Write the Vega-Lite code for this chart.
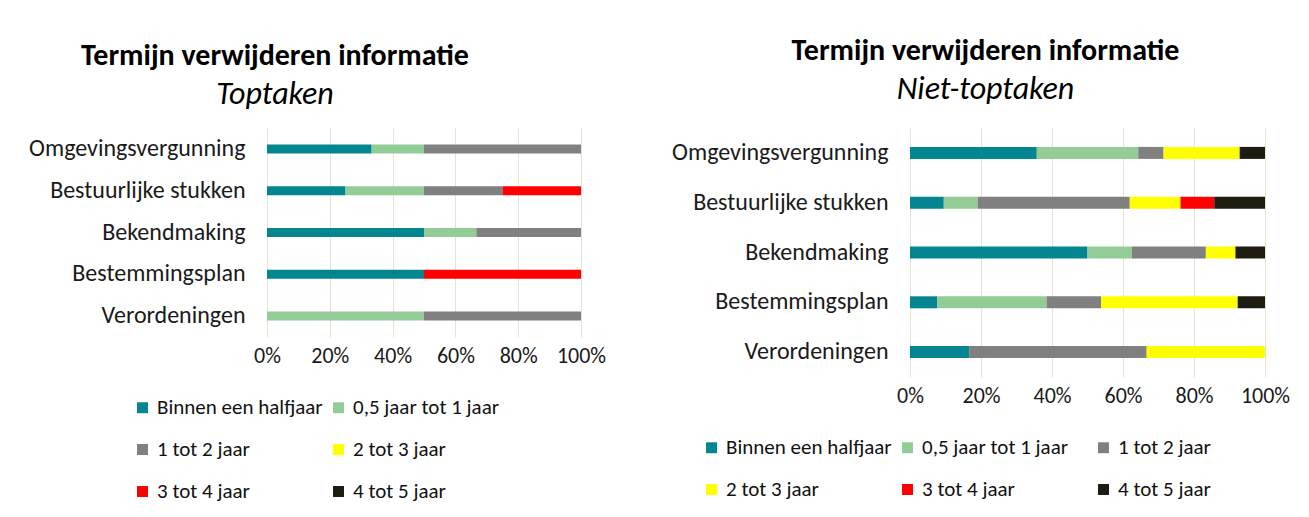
{
  "$schema": "https://vega.github.io/schema/vega-lite/v6.json",
  "background": "white",
  "padding": {"left": 28, "top": 36, "right": 5, "bottom": 5},
  "bounds": "flush",
  "spacing": 329,
  "resolve": {"scale": {"color": "independent", "x": "independent", "y": "independent"}, "legend": {"color": "independent"}},
  "config": {
    "font": "Carlito, Lato, sans-serif",
    "view": {"stroke": null},
    "axis": {"domain": false, "ticks": false, "labelColor": "#1A1A1A", "title": null, "labelLimit": 400},
    "axisX": {"grid": true, "gridColor": "#E8E3D0", "gridWidth": 1, "labelPadding": 8, "labelFontSize": 22, "labelFlush": false, "labelOverlap": false},
    "axisY": {"grid": false, "labelPadding": 22, "labelFontSize": 24},
    "legend": {"padding": 0, "labelFontSize": 21, "labelColor": "#111111", "symbolType": "square", "symbolSize": 120, "symbolStrokeWidth": 0, "labelOffset": 4, "rowPadding": 20, "columnPadding": 5, "gridAlign": "all", "direction": "horizontal", "labelLimit": 400},
    "title": {"color": "black", "fontSize": 30, "fontWeight": "bold", "subtitleColor": "black", "subtitleFontSize": 32, "subtitleFontStyle": "italic", "subtitlePadding": 8}
  },
  "datasets": {
    "top": [
      {"taak": "Omgevingsvergunning", "termijn": "Binnen een halfjaar", "rang": 1, "pct": 33.33},
      {"taak": "Omgevingsvergunning", "termijn": "0,5 jaar tot 1 jaar", "rang": 2, "pct": 16.67},
      {"taak": "Omgevingsvergunning", "termijn": "1 tot 2 jaar", "rang": 3, "pct": 50},
      {"taak": "Bestuurlijke stukken", "termijn": "Binnen een halfjaar", "rang": 1, "pct": 25},
      {"taak": "Bestuurlijke stukken", "termijn": "0,5 jaar tot 1 jaar", "rang": 2, "pct": 25},
      {"taak": "Bestuurlijke stukken", "termijn": "1 tot 2 jaar", "rang": 3, "pct": 25},
      {"taak": "Bestuurlijke stukken", "termijn": "3 tot 4 jaar", "rang": 5, "pct": 25},
      {"taak": "Bekendmaking", "termijn": "Binnen een halfjaar", "rang": 1, "pct": 50},
      {"taak": "Bekendmaking", "termijn": "0,5 jaar tot 1 jaar", "rang": 2, "pct": 16.67},
      {"taak": "Bekendmaking", "termijn": "1 tot 2 jaar", "rang": 3, "pct": 33.33},
      {"taak": "Bestemmingsplan", "termijn": "Binnen een halfjaar", "rang": 1, "pct": 50},
      {"taak": "Bestemmingsplan", "termijn": "3 tot 4 jaar", "rang": 5, "pct": 50},
      {"taak": "Verordeningen", "termijn": "0,5 jaar tot 1 jaar", "rang": 2, "pct": 50},
      {"taak": "Verordeningen", "termijn": "1 tot 2 jaar", "rang": 3, "pct": 50}
    ],
    "niet": [
      {"taak": "Omgevingsvergunning", "termijn": "Binnen een halfjaar", "rang": 1, "pct": 35.71},
      {"taak": "Omgevingsvergunning", "termijn": "0,5 jaar tot 1 jaar", "rang": 2, "pct": 28.57},
      {"taak": "Omgevingsvergunning", "termijn": "1 tot 2 jaar", "rang": 3, "pct": 7.14},
      {"taak": "Omgevingsvergunning", "termijn": "2 tot 3 jaar", "rang": 4, "pct": 21.43},
      {"taak": "Omgevingsvergunning", "termijn": "4 tot 5 jaar", "rang": 6, "pct": 7.14},
      {"taak": "Bestuurlijke stukken", "termijn": "Binnen een halfjaar", "rang": 1, "pct": 9.52},
      {"taak": "Bestuurlijke stukken", "termijn": "0,5 jaar tot 1 jaar", "rang": 2, "pct": 9.52},
      {"taak": "Bestuurlijke stukken", "termijn": "1 tot 2 jaar", "rang": 3, "pct": 42.86},
      {"taak": "Bestuurlijke stukken", "termijn": "2 tot 3 jaar", "rang": 4, "pct": 14.29},
      {"taak": "Bestuurlijke stukken", "termijn": "3 tot 4 jaar", "rang": 5, "pct": 9.52},
      {"taak": "Bestuurlijke stukken", "termijn": "4 tot 5 jaar", "rang": 6, "pct": 14.29},
      {"taak": "Bekendmaking", "termijn": "Binnen een halfjaar", "rang": 1, "pct": 50},
      {"taak": "Bekendmaking", "termijn": "0,5 jaar tot 1 jaar", "rang": 2, "pct": 12.5},
      {"taak": "Bekendmaking", "termijn": "1 tot 2 jaar", "rang": 3, "pct": 20.83},
      {"taak": "Bekendmaking", "termijn": "2 tot 3 jaar", "rang": 4, "pct": 8.33},
      {"taak": "Bekendmaking", "termijn": "4 tot 5 jaar", "rang": 6, "pct": 8.33},
      {"taak": "Bestemmingsplan", "termijn": "Binnen een halfjaar", "rang": 1, "pct": 7.69},
      {"taak": "Bestemmingsplan", "termijn": "0,5 jaar tot 1 jaar", "rang": 2, "pct": 30.77},
      {"taak": "Bestemmingsplan", "termijn": "1 tot 2 jaar", "rang": 3, "pct": 15.38},
      {"taak": "Bestemmingsplan", "termijn": "2 tot 3 jaar", "rang": 4, "pct": 38.46},
      {"taak": "Bestemmingsplan", "termijn": "4 tot 5 jaar", "rang": 6, "pct": 7.69},
      {"taak": "Verordeningen", "termijn": "Binnen een halfjaar", "rang": 1, "pct": 16.67},
      {"taak": "Verordeningen", "termijn": "1 tot 2 jaar", "rang": 3, "pct": 50},
      {"taak": "Verordeningen", "termijn": "2 tot 3 jaar", "rang": 4, "pct": 33.33}
    ]
  },
  "hconcat": [
    {
      "width": 314,
      "height": 209,
      "title": {"text": "Termijn verwijderen informatie", "subtitle": "Toptaken", "anchor": "middle", "dx": -149, "offset": 18},
      "data": {"name": "top"},
      "mark": {"type": "bar", "size": 9},
      "encoding": {
        "y": {"field": "taak", "type": "nominal", "sort": ["Omgevingsvergunning", "Bestuurlijke stukken", "Bekendmaking", "Bestemmingsplan", "Verordeningen"], "scale": {"paddingInner": 0, "paddingOuter": 0}},
        "x": {"field": "pct", "type": "quantitative", "stack": "normalize", "scale": {"domain": [0, 1], "nice": false}, "axis": {"values": [0, 0.2, 0.4, 0.6, 0.8, 1], "format": ".0%"}},
        "color": {"field": "termijn", "type": "nominal",
          "scale": {"domain": ["Binnen een halfjaar", "0,5 jaar tot 1 jaar", "1 tot 2 jaar", "2 tot 3 jaar", "3 tot 4 jaar", "4 tot 5 jaar"], "range": ["#03868F", "#93CC97", "#808080", "#FFFF00", "#FF0000", "#1E1C10"]},
          "legend": {"title": null, "orient": "none", "legendX": -135, "legendY": 269, "columns": 2}},
        "order": {"field": "rang", "type": "quantitative"}
      }
    },
    {
      "width": 355,
      "height": 249,
      "title": {"text": "Termijn verwijderen informatie", "subtitle": "Niet-toptaken", "anchor": "middle", "dx": -102, "offset": 23},
      "data": {"name": "niet"},
      "mark": {"type": "bar", "size": 12},
      "encoding": {
        "y": {"field": "taak", "type": "nominal", "sort": ["Omgevingsvergunning", "Bestuurlijke stukken", "Bekendmaking", "Bestemmingsplan", "Verordeningen"], "scale": {"paddingInner": 0, "paddingOuter": 0}},
        "x": {"field": "pct", "type": "quantitative", "stack": "normalize", "scale": {"domain": [0, 1], "nice": false}, "axis": {"values": [0, 0.2, 0.4, 0.6, 0.8, 1], "format": ".0%"}},
        "color": {"field": "termijn", "type": "nominal",
          "scale": {"domain": ["Binnen een halfjaar", "0,5 jaar tot 1 jaar", "1 tot 2 jaar", "2 tot 3 jaar", "3 tot 4 jaar", "4 tot 5 jaar"], "range": ["#03868F", "#93CC97", "#808080", "#FFFF00", "#FF0000", "#1E1C10"]},
          "legend": {"title": null, "orient": "none", "legendX": -209, "legendY": 309, "columns": 3}},
        "order": {"field": "rang", "type": "quantitative"}
      }
    }
  ]
}
